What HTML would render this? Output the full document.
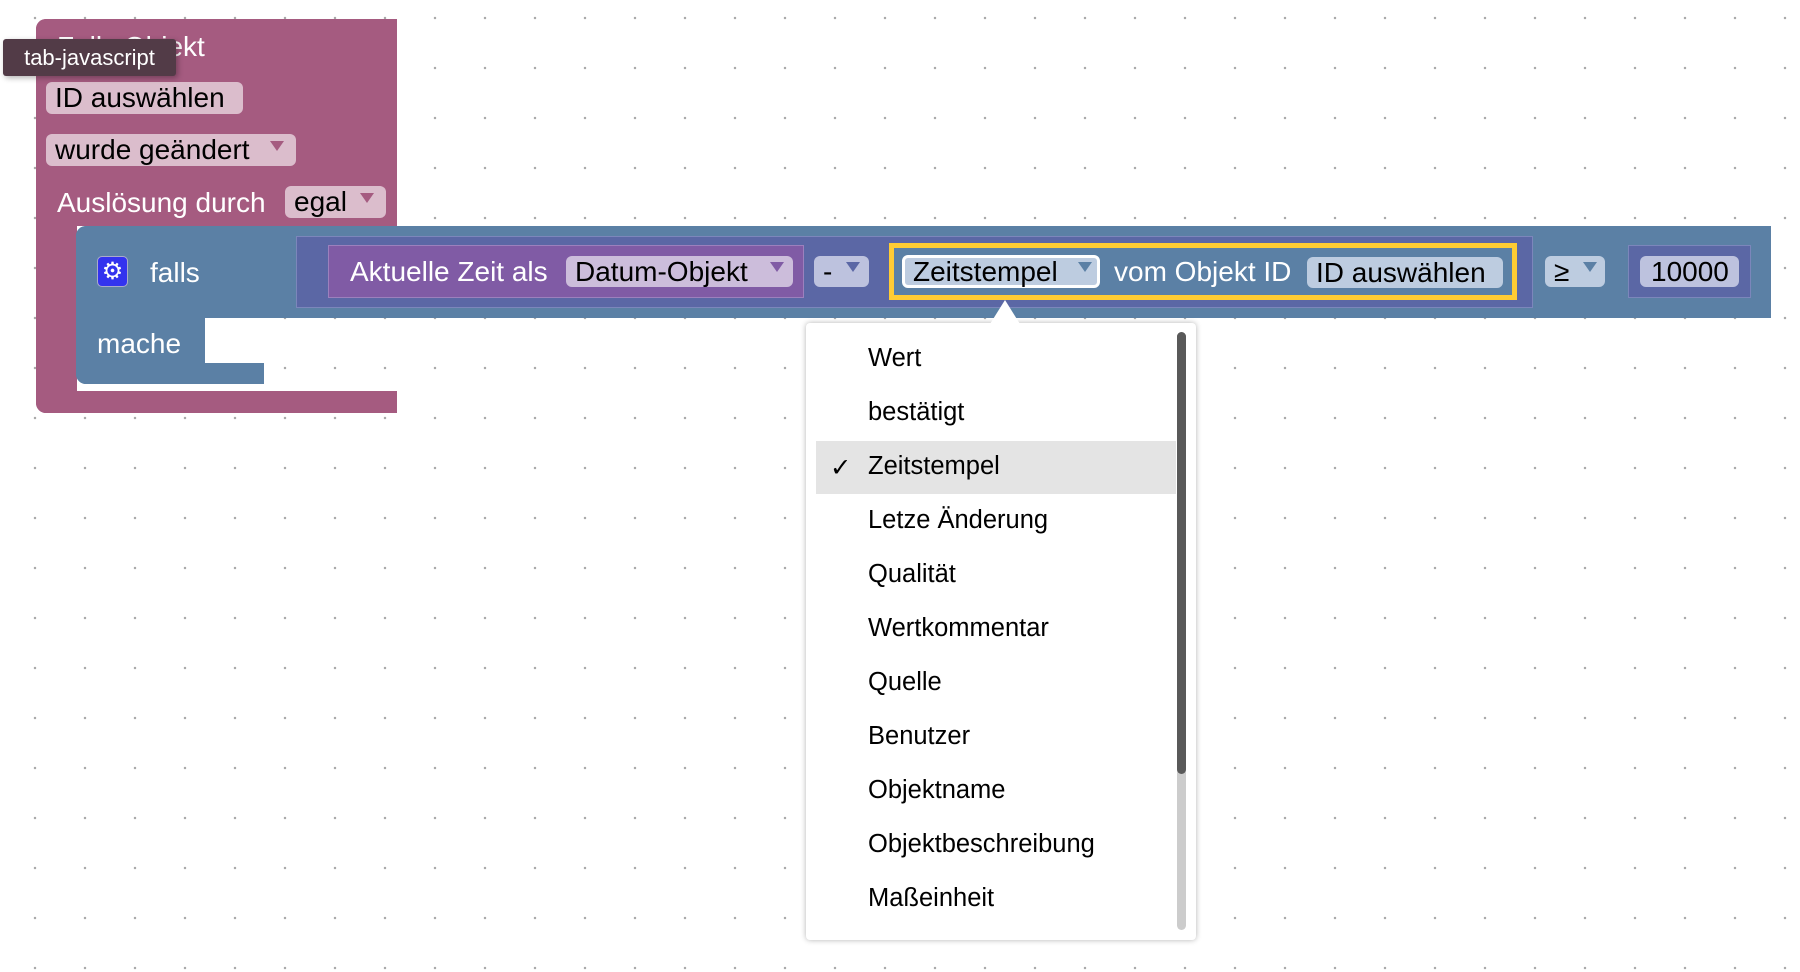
<!DOCTYPE html>
<html><head><meta charset="utf-8"><style>
body{margin:0;width:1800px;height:972px;overflow:hidden;background:#fff;font-family:"Liberation Sans",sans-serif;position:relative}
.a{position:absolute}
.dots{position:absolute;left:0;top:0;width:1800px;height:972px;background-image:radial-gradient(circle,#aaa 1.1px,transparent 1.4px);background-size:50px 50px;background-position:10px -7px}
.t{position:absolute;font-size:28px;line-height:32px;white-space:nowrap}
.pill{position:absolute;border-radius:6px;font-size:28px;line-height:32px;color:#000;white-space:nowrap;box-sizing:border-box;padding-left:9px}
.arr{position:absolute;width:0;height:0;border-left:7px solid transparent;border-right:7px solid transparent}
.mi{position:absolute;left:868px;font-size:25.5px;line-height:30px;color:#000}
</style></head><body>
<div class="dots"></div>

<div class="a" style="left:36px;top:19px;width:361px;height:207px;background:#a55b80;border-radius:10px 0 0 0"></div>
<div class="a" style="left:36px;top:19px;width:41px;height:394px;background:#a55b80;border-radius:10px 0 0 10px"></div>
<div class="a" style="left:36px;top:391px;width:361px;height:22px;background:#a55b80;border-radius:0 0 0 10px"></div>
<div class="t" style="left:57px;top:31px;color:#fff">Falls Objekt</div>
<div class="pill" style="left:46px;top:82px;width:197px;height:32px;background:#dbbdcc">ID auswählen</div>
<div class="pill" style="left:46px;top:134px;width:250px;height:32px;background:#dbbdcc">wurde geändert</div>
<div class="arr" style="left:270px;top:141px;border-top:10px solid #a55b80"></div>
<div class="t" style="left:57px;top:187px;color:#fff">Auslösung durch</div>
<div class="pill" style="left:285px;top:186px;width:101px;height:32px;background:#dbbdcc">egal</div>
<div class="arr" style="left:360px;top:193px;border-top:10px solid #a55b80"></div>

<div class="a" style="left:3px;top:39px;width:173px;height:37px;background:#523b47;border-radius:3px;box-shadow:2px 2px 6px rgba(0,0,0,.3);color:#fff;font-size:22px;line-height:37px;text-align:center">tab-javascript</div>

<div class="a" style="left:76px;top:226px;width:1695px;height:92px;background:#5b80a5;border-radius:10px 0 0 0"></div>
<div class="a" style="left:76px;top:226px;width:129px;height:158px;background:#5b80a5;border-radius:10px 0 0 10px"></div>
<div class="a" style="left:76px;top:363px;width:188px;height:21px;background:#5b80a5;border-radius:0 0 0 10px"></div>
<div class="a" style="left:205px;top:318px;width:59px;height:45px;background:#fff;border-radius:10px 0 0 10px"></div>
<div class="a" style="left:97px;top:256px;width:31px;height:31px;background:#3333ee;border-radius:5px;border:1px solid #aac;box-sizing:border-box;color:#fff;font-size:24px;line-height:29px;text-align:center">⚙</div>
<div class="t" style="left:150px;top:257px;color:#fff">falls</div>
<div class="t" style="left:97px;top:328px;color:#fff">mache</div>

<div class="a" style="left:296px;top:236px;width:1237px;height:72px;background:#5b67a5;border:1px solid #7c86bb;box-sizing:border-box"></div>
<div class="a" style="left:328px;top:245px;width:476px;height:53px;background:#805ba5;border:1px solid #9c80bd;box-sizing:border-box"></div>
<div class="t" style="left:350px;top:256px;color:#fff">Aktuelle Zeit als</div>
<div class="pill" style="left:566px;top:256px;width:227px;height:31px;background:#ccbddb">Datum-Objekt</div>
<div class="arr" style="left:770px;top:262px;border-top:10px solid #805ba5"></div>
<div class="pill" style="left:814px;top:256px;width:55px;height:31px;background:#bdc2de">-</div>
<div class="arr" style="left:846px;top:262px;border-top:10px solid #5b67a5"></div>
<div class="a" style="left:889px;top:243px;width:628px;height:57px;background:#5b80a5;border:5px solid #fc3;box-sizing:border-box"></div>
<div class="pill" style="left:902px;top:255px;width:198px;height:33px;background:#bdcce0;border:3px solid #fff;line-height:27px;padding-left:8px">Zeitstempel</div>
<div class="arr" style="left:1078px;top:262px;border-top:10px solid #5b80a5"></div>
<div class="t" style="left:1114px;top:256px;color:#fff">vom Objekt ID</div>
<div class="pill" style="left:1307px;top:257px;width:196px;height:31px;background:#bdcce0">ID auswählen</div>
<div class="pill" style="left:1545px;top:256px;width:60px;height:31px;background:#bdcce0">≥</div>
<div class="arr" style="left:1583px;top:262px;border-top:10px solid #5b80a5"></div>
<div class="a" style="left:1628px;top:245px;width:123px;height:53px;background:#5b67a5;border:1px solid #7c86bb;box-sizing:border-box"></div>
<div class="pill" style="left:1640px;top:256px;width:99px;height:31px;background:#bdc2de;padding-left:11px">10000</div>

<div class="a" style="left:806px;top:323px;width:390px;height:617px;background:#fff;border-radius:4px;box-shadow:0 0 6px rgba(0,0,0,.3)"></div>
<div class="a" style="left:990px;top:300px;width:0;height:0;border-left:15px solid transparent;border-right:15px solid transparent;border-bottom:24px solid #fff"></div>
<div class="a" style="left:816px;top:441px;width:360px;height:53px;background:#e4e4e4"></div>
<div class="a" style="left:1177px;top:332px;width:9px;height:598px;background:#ccc;border-radius:5px"></div>
<div class="a" style="left:1177px;top:332px;width:9px;height:442px;background:#595959;border-radius:5px"></div>
<div class="mi" style="left:830px;top:453px">✓</div>
<div class="mi" style="top:343px">Wert</div>
<div class="mi" style="top:397px">bestätigt</div>
<div class="mi" style="top:451px">Zeitstempel</div>
<div class="mi" style="top:505px">Letze Änderung</div>
<div class="mi" style="top:559px">Qualität</div>
<div class="mi" style="top:613px">Wertkommentar</div>
<div class="mi" style="top:667px">Quelle</div>
<div class="mi" style="top:721px">Benutzer</div>
<div class="mi" style="top:775px">Objektname</div>
<div class="mi" style="top:829px">Objektbeschreibung</div>
<div class="mi" style="top:883px">Maßeinheit</div>
</body></html>
